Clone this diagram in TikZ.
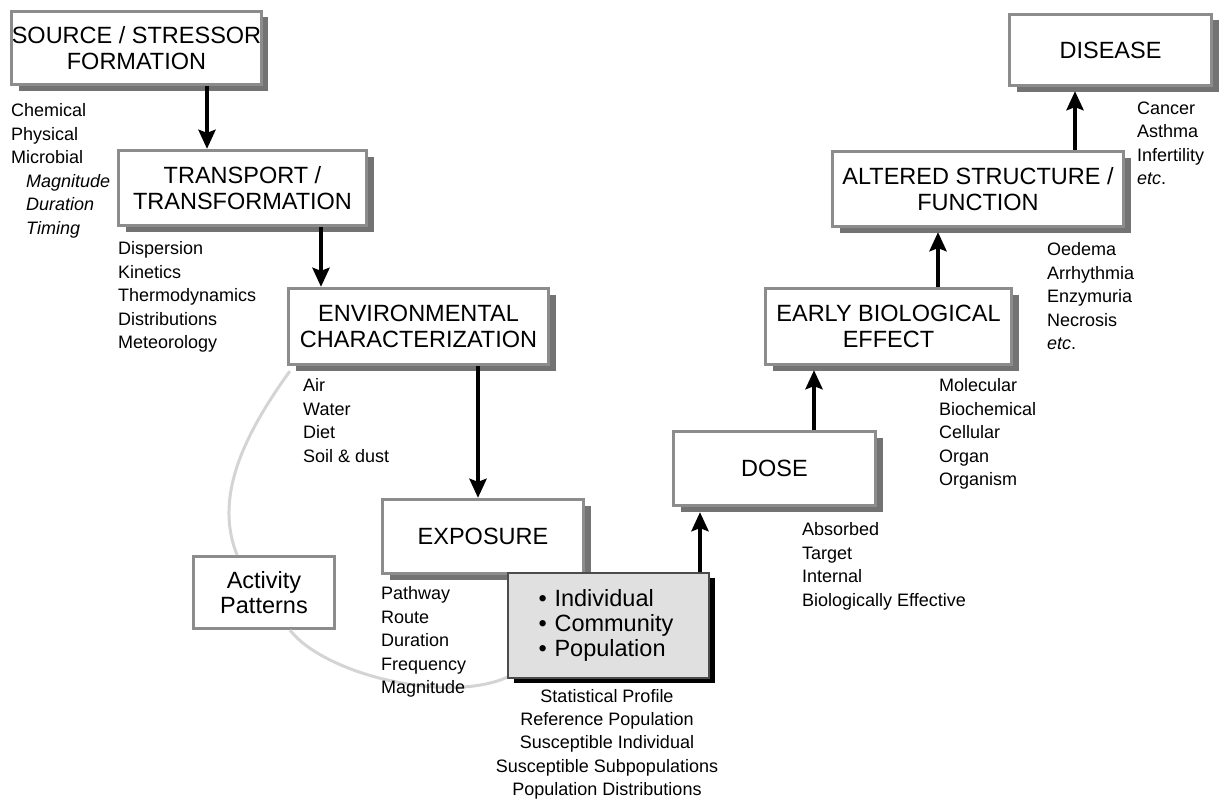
\documentclass[tikz,border=0pt]{standalone}
\usepackage{fontspec}
\setmainfont{Liberation Sans}
\usetikzlibrary{shadows,arrows.meta,calc}
\begin{document}
\begin{tikzpicture}[x=1pt,y=-1pt,
  stagebox/.style={draw=black!45, line width=3.3pt, fill=white, inner sep=0pt, align=center,
    font=\fontsize{23.5}{25.5}\selectfont,
    drop shadow={shadow xshift=7pt, shadow yshift=-6pt, fill=black!55, opacity=1}},
  plainbox/.style={draw=black!45, line width=3.3pt, fill=white, inner sep=0pt, align=center,
    font=\fontsize{23.5}{25.5}\selectfont},
  popbox/.style={draw=black!70, line width=1.2pt, fill=black!12, inner sep=0pt, align=left,
    font=\fontsize{23.5}{25}\selectfont,
    drop shadow={shadow xshift=6pt, shadow yshift=-5pt, fill=black, opacity=1}},
  list/.style={anchor=north west, inner sep=0pt, align=left, font=\fontsize{18}{23.5}\selectfont},
  clist/.style={anchor=north, inner sep=0pt, align=center, font=\fontsize{18}{23.2}\selectfont},
  arr/.style={line width=4pt, -{Stealth[length=19pt,width=17pt,inset=3pt]}},
  link/.style={draw=black!17, line width=3pt}
]
\useasboundingbox (0,0) rectangle (1222,800);

% nodes
\node[stagebox, minimum width=248, minimum height=73] (src) at (136.5,48) {SOURCE / STRESSOR\\FORMATION};
\node[stagebox, minimum width=248, minimum height=75] (tr) at (242.5,188) {TRANSPORT /\\TRANSFORMATION};
\node[stagebox, minimum width=260, minimum height=76] (env) at (418.5,326.5) {ENVIRONMENTAL\\CHARACTERIZATION};
\node[stagebox, minimum width=201, minimum height=74] (exp) at (483,536.5) {EXPOSURE};
\node[stagebox, minimum width=202, minimum height=74] (dose) at (774.5,468.5) {DOSE};
\node[stagebox, minimum width=246, minimum height=76] (early) at (888.5,326.5) {EARLY BIOLOGICAL\\EFFECT};
\node[stagebox, minimum width=291, minimum height=75] (alt) at (978,189) {ALTERED STRUCTURE /\\FUNCTION};
\node[stagebox, minimum width=202, minimum height=71] (dis) at (1110.5,50) {DISEASE};
\node[plainbox, minimum width=141, minimum height=72] (act) at (264,592.5) {Activity\\Patterns};

% grey links
\draw[link] ($(env.south west)+(3,5)$) .. controls (240,440) and (215,500) .. ($(act.north)+(-27,0)$);
\draw[link] ($(act.south)+(26,0)$) .. controls (325,675) and (450,705) .. (510,676);

\node[popbox, minimum width=201, minimum height=105, text width=140pt] (pop) at (608.5,625.5) {• Individual\\• Community\\• Population};

% arrows
\coordinate (c1) at (207,0);
\coordinate (c2) at (321,0);
\coordinate (c3) at (478,0);
\coordinate (c4) at (700,0);
\coordinate (c5) at (814,0);
\coordinate (c6) at (938,0);
\coordinate (c7) at (1075,0);
\draw[arr] (src.south -| c1) -- (tr.north -| c1);
\draw[arr] (tr.south -| c2) -- (env.north -| c2);
\draw[arr] (env.south -| c3) -- (exp.north -| c3);
\draw[arr] (pop.north -| c4) -- ($(dose.south -| c4)+(0,5)$);
\draw[arr] (dose.north -| c5) -- ($(early.south -| c5)+(0,4)$);
\draw[arr] (early.north -| c6) -- ($(alt.south -| c6)+(0,4)$);
\draw[arr] (alt.north -| c7) -- ($(dis.south -| c7)+(0,4)$);

% lists
\node[list] (l1) at (11,103.3) {Chemical\\Physical\\Microbial\\\hspace*{15pt}\textit{Magnitude}\\\hspace*{15pt}\textit{Duration}\\\hspace*{15pt}\textit{Timing}};
\node[list] (l2) at (118,241.3) {Dispersion\\Kinetics\\Thermodynamics\\Distributions\\Meteorology};
\node[list] (l3) at (303,378.3) {Air\\Water\\Diet\\Soil \& dust};
\node[list] (l4) at (381,586.3) {Pathway\\Route\\Duration\\Frequency\\Magnitude};
\node[list] (l5) at (802,522.3) {Absorbed\\Target\\Internal\\Biologically Effective};
\node[list] (l6) at (939,378.3) {Molecular\\Biochemical\\Cellular\\Organ\\Organism};
\node[list] (l7) at (1047,242.3) {Oedema\\Arrhythmia\\Enzymuria\\Necrosis\\\textit{etc}.};
\node[list] (l8) at (1137,101.3) {Cancer\\Asthma\\Infertility\\\textit{etc}.};
\node[clist] (l9) at (607,689.3) {Statistical Profile\\Reference Population\\Susceptible Individual\\Susceptible Subpopulations\\Population Distributions};
\end{tikzpicture}
\end{document}
